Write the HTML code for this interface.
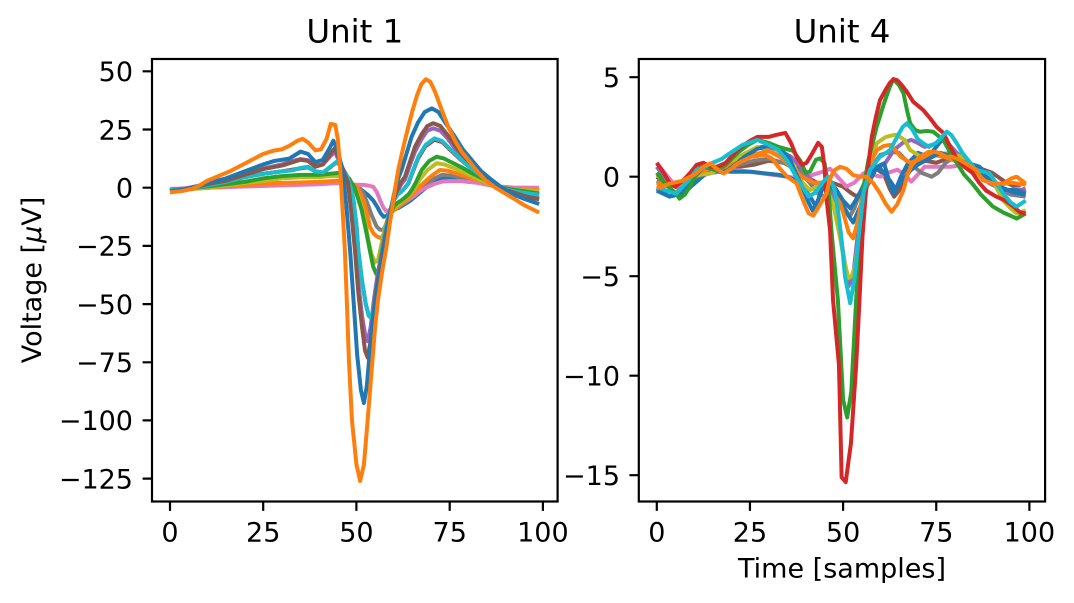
<!DOCTYPE html>
<html>
<head>
<meta charset="utf-8">
<style>
html,body{margin:0;padding:0;background:#fff;}
svg{display:block;}
text{font-family:"DejaVu Sans","Liberation Sans",sans-serif;fill:#000;}
.tl{font-size:27px;}
.tt{font-size:32.4px;}
path.s{fill:none;stroke-width:4;stroke-linejoin:round;stroke-linecap:butt;vector-effect:non-scaling-stroke;}
</style>
</head>
<body>
<svg width="1074" height="603" viewBox="0 0 1074 603" xmlns="http://www.w3.org/2000/svg">
<rect x="0" y="0" width="1074" height="603" fill="#fff"/>

<defs>
<clipPath id="cl"><rect x="152" y="59" width="405.6" height="442.5"/></clipPath>
<clipPath id="cr"><rect x="638.8" y="59" width="406.3" height="442.5"/></clipPath>
</defs>

<!-- ===== Left axes: Unit 1 ===== -->
<g clip-path="url(#cl)">
<g transform="matrix(3.729 0 0 -2.3274 170 187.7)">
<path class="s" stroke="#1f77b4" d="M0,-1 L10,0 L20,1 L30,1.5 L40,2 L46,2 L49,1.5 L51,-0.5 L53,-3 L54.5,-5.5 L55.5,-8 L56.5,-11 L57.3,-12.5 L58.2,-12 L59,-10.5 L60,-9.5 L61.5,-8.5 L63,-7 L64.5,-5.5 L66,-3.5 L67.5,-1.5 L69,0.5 L71,2.5 L72.9,4 L75,4.2 L78,3.8 L82,2.8 L87.2,0.6 L93,-0.5 L99,-1"/>
<path class="s" stroke="#7f7f7f" d="M0,-1 L10,0 L20,1.5 L30,2 L40,2.2 L45,2.5 L48,2 L50,1 L51,-0.5 L52,-3 L53,-7 L54,-11.5 L55.4,-16.7 L56.3,-18 L57.2,-18.2 L58,-15.5 L59,-11.5 L60,-9.5 L61.5,-8 L63,-6.5 L64.5,-4.5 L66,-2.5 L67.5,-0.5 L69,1.8 L71,4 L72.9,5.5 L75,5.3 L78,4.5 L81,3.5 L84,2.3 L87.2,0.6 L90,-0.2 L94,-0.6 L99,-1"/>
<path class="s" stroke="#e377c2" d="M0,-0.5 L10,0 L20,0.5 L30,1 L40,1.5 L45,2 L48,1.5 L50,1.2 L52,1.2 L53.5,0.8 L54.5,0.4 L55.5,-2 L56.3,-5.3 L57.2,-8.5 L57.9,-10 L58.7,-9.8 L59.5,-8.5 L61,-7.5 L62.5,-6.3 L63.9,-5.3 L65.5,-3.5 L67,-1.5 L69,0.3 L71,1.7 L72.9,2.6 L75,2.9 L78,2.8 L82,2.2 L87.2,0.6 L92,0.1 L99,0"/>
<path class="s" stroke="#ff7f0e" d="M0,-1 L10,0 L20,1.2 L30,2 L40,2.5 L45,3 L48,2.5 L50,0.5 L51,-2 L52,-6 L53,-12 L53.6,-16.7 L54.5,-19.5 L55.5,-21 L56.6,-21.7 L57.5,-19.5 L58.5,-14 L59.5,-10.5 L61,-8.5 L62.5,-6.5 L64,-4.5 L65.5,-2 L67,0.5 L69,3.5 L70.5,5.5 L72.4,7.6 L74.5,7.3 L77,6 L80,4.5 L83,3 L87.2,0.6 L90,-0.3 L94,-0.7 L99,-1"/>
<path class="s" stroke="#bcbd22" d="M0,-1.5 L10,0 L20,2 L25,3 L30,4 L35,4.5 L40,4.5 L43,5 L46,5 L48,3.5 L49.5,0 L50.5,-4 L51.5,-9 L52.5,-16 L53.2,-22.5 L54,-28.5 L55,-32 L55.8,-31 L56.6,-25 L57.5,-18 L58.5,-12.5 L59.5,-9.6 L61,-7.5 L62.5,-5.5 L64,-3.5 L65.5,-0.5 L67,3.5 L69,7.5 L71.5,10.5 L73.5,10 L76,8.5 L79,6.5 L82,4.2 L85,2 L87.2,0.6 L90,-0.3 L94,-1 L99,-1.5"/>
<path class="s" stroke="#2ca02c" d="M0,-1 L10,0.5 L20,2.5 L25,4 L30,5 L35,5.5 L40,5.5 L43,6 L46,6.5 L48,4 L49.5,0 L50.5,-5 L51.4,-9.6 L52.5,-18 L53.6,-27 L54.5,-34 L55.3,-37 L56.1,-35 L57,-28 L58,-19 L59,-12 L60,-8 L61,-6.5 L62,-5.5 L63,-4.2 L64,-2.8 L65,-0.5 L66,2.5 L67.5,7.6 L69.5,11.5 L71.5,13.3 L73.5,12.5 L76,10.5 L78.5,8.5 L81,6.2 L84,3.8 L87.2,0.8 L90,-0.3 L94,-1.3 L99,-2.5"/>
<path class="s" stroke="#9467bd" d="M0,-1.5 L10,1.5 L20,5.5 L25,8.2 L30,10 L33,11.5 L35,12.3 L37,11.8 L39,9.5 L41,10 L43,13.5 L44.2,15.5 L45.5,11 L46.8,5.5 L47.8,1.5 L48.7,-11 L49.6,-25 L50.5,-41 L51.5,-55 L52.3,-63 L53,-66 L53.8,-60 L54.7,-48 L55.7,-37 L56.7,-28 L57.7,-20 L58.7,-12.5 L59.7,-6.5 L60.8,-2 L62,1.5 L63,3.5 L64.3,9.5 L65.7,15.5 L67.5,21 L69,24.5 L70.6,25.5 L72.5,24.5 L74.5,21 L77.3,15 L79.5,11.5 L81.8,8.5 L84.5,4.5 L87.2,1 L90,-1 L93,-2.3 L96,-3.7 L99,-4.6"/>
<path class="s" stroke="#d62728" d="M0,-1 L5,-0.5 L10,1 L15,2.5 L20,4.5 L25,6 L30,7 L35,8.3 L37,8.8 L39,7 L41,6.5 L43,8.8 L44.7,11 L46,9 L47.5,5 L48.5,0 L49.2,-5.3 L50,-16 L50.5,-27 L51.5,-40 L52.5,-50 L53.3,-55 L54,-56 L54.8,-50 L55.8,-38 L56.8,-27 L57.8,-18 L58.8,-11 L59.8,-6 L61,-3 L62.5,-1 L63.9,1.7 L65.3,7.6 L66.6,12.8 L68.5,17.8 L70.9,20.6 L73,19.6 L75.5,15.7 L78.2,11.7 L81,8 L84,4.5 L87.2,0.8 L90,-0.8 L94,-2 L99,-3"/>
<path class="s" stroke="#17becf" d="M0,-1 L5,-0.5 L10,1 L15,2.5 L20,4.5 L25,6 L30,7 L33,7.5 L35,8.5 L37,9 L39,7 L41,6.5 L43,9 L44.7,11.2 L46,9 L47.5,5 L48.5,0 L49.2,-5.3 L50,-16 L50.5,-27 L51.5,-40 L52.5,-50 L53.3,-55 L54,-56 L54.8,-50 L55.8,-38 L56.8,-27 L57.8,-18 L58.8,-11 L59.8,-6 L61,-3 L62.5,-1 L63.9,1.9 L65.3,8 L66.6,13.3 L68.5,18.3 L70.9,21.2 L73,20 L75.5,16 L78.2,11.9 L81,8 L84,4.5 L87.2,0.8 L90,-0.8 L94,-2 L99,-3"/>
<path class="s" stroke="#8c564b" d="M0,-1.5 L5,-0.5 L10,1.5 L15,3 L20,5.5 L25,8 L30,9.5 L33,11 L35,12 L37,11.5 L39,9 L41,10 L43,14.5 L44.2,17 L45.5,12 L46.8,6 L47.8,1.9 L48.7,-12 L49.6,-27 L50.5,-45 L51.5,-60 L52.3,-70 L53,-73 L53.8,-66 L54.7,-52 L55.7,-40 L56.7,-30 L57.7,-21 L58.7,-13 L59.7,-6.5 L60.8,-1.5 L62,2.5 L63,4.7 L64.3,11 L65.7,17.6 L67.5,23 L69,26.5 L70.6,27.7 L72.5,26.5 L74.5,22.5 L77.3,16.2 L79.5,12.2 L81.8,9 L84.5,4.8 L87.2,1 L90,-1 L93,-2.5 L96,-4 L99,-5"/>
<path class="s" stroke="#1f77b4" d="M0,-1.5 L5,-0.5 L10,2 L15,4 L20,7 L25,10 L28,11.5 L32,12.5 L35,15.5 L37,14.5 L39,11 L41,12 L42.8,17 L43.8,20.2 L45,16 L46,9 L46.5,4.7 L47.3,-8 L48.3,-27 L49.2,-48 L50.2,-72 L51.2,-87 L52,-92.5 L52.8,-85 L53.6,-70 L54.5,-55 L55.5,-45 L56.5,-35 L57.5,-25 L58.5,-16 L59.4,-8 L60.3,-1 L61.2,4 L62.1,7.6 L63.5,15 L64.8,21.9 L66.5,28 L68.3,32.5 L70.2,34.1 L72,32.5 L74,27.5 L76.4,21.9 L78.5,16.5 L80.9,11.9 L83.5,7 L86.3,3.3 L89,0 L92,-2.8 L95,-4.8 L99,-7"/>
<path class="s" stroke="#ff7f0e" d="M0,-2 L3,-1.5 L6,-0.5 L8,1 L10,3 L13,5 L16,7 L19,9.5 L22,12 L25,14.5 L28,16 L30,16.5 L32,18 L34,20 L35.5,21 L37,19.5 L39,16 L40.5,16.5 L42,21 L43.1,27.4 L44.3,27 L45,21 L45.6,9 L46.3,-10 L46.9,-27 L47.4,-48 L48,-75 L48.8,-100 L50,-119 L51,-126 L52,-119 L53,-100 L54,-80 L55,-60 L55.8,-48 L57,-35 L58,-26 L58.8,-17 L59.5,-9.6 L60.3,-1 L61.2,7.6 L62.5,17 L63.9,26.2 L65,33 L66.2,39.5 L67.4,44.5 L68.6,46.6 L69.8,45.5 L71,41.5 L72.5,35 L74.6,26.2 L76.5,20 L78.2,15.5 L80,11.9 L82.3,7.2 L84.5,3.3 L87,0.3 L89.8,-2.4 L92,-4.5 L95,-7.5 L99,-10.7"/>
</g>
</g>

<!-- left frame and ticks -->
<g stroke="#000" stroke-width="2.2" fill="none">
<rect x="152" y="59" width="405.6" height="442.5" stroke-linejoin="miter"/>
<path d="M170,501.5 v9.4 M263.2,501.5 v9.4 M356.4,501.5 v9.4 M449.7,501.5 v9.4 M542.9,501.5 v9.4"/>
<path d="M152,71.3 h-9.4 M152,129.5 h-9.4 M152,187.7 h-9.4 M152,245.9 h-9.4 M152,304.1 h-9.4 M152,362.3 h-9.4 M152,420.4 h-9.4 M152,478.6 h-9.4"/>
</g>
<g class="tl" text-anchor="end">
<text x="133" y="81.1">50</text>
<text x="133" y="139.3">25</text>
<text x="133" y="197.5">0</text>
<text x="133" y="255.7">−25</text>
<text x="133" y="313.9">−50</text>
<text x="133" y="372.1">−75</text>
<text x="133" y="430.2">−100</text>
<text x="133" y="488.4">−125</text>
</g>
<g class="tl" text-anchor="middle">
<text x="170" y="541.5">0</text>
<text x="263.2" y="541.5">25</text>
<text x="356.4" y="541.5">50</text>
<text x="449.7" y="541.5">75</text>
<text x="542.9" y="541.5">100</text>
</g>
<text class="tt" x="354.8" y="42.5" text-anchor="middle">Unit 1</text>
<text class="tl" transform="translate(41,280) rotate(-90)" text-anchor="middle">Voltage [<tspan font-style="italic">μ</tspan>V]</text>

<!-- ===== Right axes: Unit 4 ===== -->
<g clip-path="url(#cr)">
<g transform="matrix(3.726 0 0 -19.9 656.8 176.7)">
<path class="s" stroke="#8c564b" d="M0,0 L3,-0.4 L6,-0.5 L10,-0.1 L14,0.3 L18,0.5 L22,0.5 L26,0.6 L30,0.8 L34,0.7 L38,0.4 L41,-0.1 L44,-0.4 L47,-0.3 L50,-0.5 L52,-0.8 L53.7,-1.0 L55.5,-0.6 L57,0 L59,0.4 L61,0.1 L62.5,-0.6 L63.7,-1.0 L65,-0.7 L67,0.2 L69,0.7 L72,0.8 L75,0.7 L78,0.9 L81,1.0 L84,0.6 L87,0.4 L90,0.2 L93,-0.2 L96,-0.5 L99,-0.3"/>
<path class="s" stroke="#e377c2" d="M0,0.67 L2.5,0.1 L5.2,-0.5 L8,-0.3 L11,0 L15,0.2 L19,0.3 L23,0.3 L27,0.2 L31,0.1 L35,0 L39,-0.1 L42,0.1 L44.5,0.25 L46.5,0.4 L48.5,0 L50.9,-0.5 L53,-0.3 L55.5,0.17 L58,0.1 L60,0 L62,0.2 L64.6,0.35 L66.5,0.1 L68.3,-0.25 L70,0.1 L71.9,0.5 L74,0.5 L76.5,0.5 L79,0.5 L82,0.6 L85,0.4 L88,0 L91,-0.4 L94,-0.7 L97,-0.6 L99,-0.8"/>
<path class="s" stroke="#7f7f7f" d="M0,-0.2 L3,-0.5 L6,-0.4 L10,0 L14,0.2 L18,0.3 L22,0.6 L26,0.8 L30,0.9 L34,0.7 L38,0.3 L41,-0.3 L43.5,-0.9 L45.5,-1.0 L47,-0.8 L49,-0.9 L50.5,-1.6 L51.8,-2.0 L53,-1.6 L54.5,-0.8 L56,-0.2 L58,0.6 L60,1.1 L62.8,1.25 L65,1.2 L67,0.8 L69,0.5 L71,0.2 L73.8,0 L75.5,0.2 L77.5,0.7 L80,1.0 L83,0.8 L86,0.4 L89,-0.1 L92,-0.6 L95,-0.9 L99,-1.0"/>
<path class="s" stroke="#9467bd" d="M0,0.5 L3,-0.3 L6,-0.6 L9,-0.3 L12,0.3 L16,0.5 L20,0.8 L24,1.2 L28,1.5 L32,1.4 L36,1.0 L39,0.4 L42,-0.3 L45,-0.5 L47,-0.8 L48.5,-1.8 L50,-3.8 L51.5,-5.5 L52.8,-4.8 L54,-2.8 L55.5,-0.8 L57,0.3 L59,0.5 L61,0.6 L63.7,1.35 L66,1.7 L68.3,1.85 L70,1.7 L71.9,1.5 L74,1.6 L76.5,1.85 L78.5,1.6 L80.5,1.2 L83,0.8 L86,0.3 L89,-0.3 L92,-0.6 L95,-0.8 L99,-0.6"/>
<path class="s" stroke="#1f77b4" d="M0,-0.6 L3.4,-1.0 L7,-0.85 L10.7,-0.25 L14.4,0.35 L17,0.3 L19.8,0.25 L25.3,0.25 L29,0.17 L32.6,0.1 L35,0 L38,-0.25 L40,-0.7 L41.8,-1.2 L42.7,-1.5 L44.5,-0.5 L46.3,-0.35 L48.2,-0.85 L50.5,-1.7 L52.7,-2.3 L54.6,-1.5 L56.4,-0.5 L59.1,0.5 L61,0.67 L62.8,-0.5 L63.7,-0.85 L65.5,0 L67.4,0.67 L70.1,1.2 L72.9,1.0 L76.5,1.85 L78.5,1.6 L80.2,1.0 L83.8,0.67 L86.6,0.5 L89.3,0 L93,-0.67 L96.6,-0.67 L99,-0.85"/>
<path class="s" stroke="#bcbd22" d="M0,0.1 L2.5,-0.3 L5.2,-0.5 L7.5,-0.2 L9.8,0 L12,0.1 L14.4,0.17 L17,0.4 L19.8,0.67 L23,1.1 L27,1.5 L30,1.3 L34.5,1.0 L37,0.5 L38.4,-0.17 L41.1,-0.67 L43,-0.5 L44.5,-0.5 L46,-0.8 L47.3,-1.35 L49,-2.9 L50.3,-4.2 L51.4,-5.1 L52.3,-5.0 L53.2,-4.5 L55,-2.0 L57.3,0.5 L59,1.68 L61.5,2.0 L63.7,2.1 L64.4,2.1 L66.5,1.85 L68,1.34 L69.2,1.2 L71.5,0.92 L73,1.0 L75.5,1.1 L78.3,1.2 L80,1.1 L82,1.0 L84,0.5 L85.6,0.17 L89.3,0 L91,-0.5 L93,-1.2 L95,-1.6 L96.6,-1.85 L99,-1.7"/>
<path class="s" stroke="#ff7f0e" d="M0,-0.3 L3,-0.5 L6,-0.3 L10,0.1 L14,0.4 L18,0.5 L22,0.7 L26,1.1 L30,1.3 L33,1.0 L36,0.5 L39,0 L42,-0.3 L45,-0.3 L47,-0.4 L48.5,-0.9 L50,-1.8 L51.5,-2.8 L52.7,-3.1 L54,-2.2 L55.5,-0.6 L57,0.6 L59.1,1.35 L61,1.55 L62.8,1.6 L65.5,1.0 L68,0.7 L71,0.9 L74,1.1 L77,1.0 L80,0.8 L83,0.5 L86,0.2 L89,-0.2 L92,-0.4 L95,-0.3 L99,-0.4"/>
<path class="s" stroke="#1f77b4" d="M0,-0.7 L3.4,-1.0 L8,-0.5 L12.5,0.5 L15,0.4 L18,0.17 L21,0.6 L23.5,1.0 L27,1.4 L30.8,1.6 L33,1.4 L35.4,1.0 L37,0.3 L39,-0.5 L40.5,-1.2 L41.8,-1.7 L43,-1.3 L44.5,-0.6 L46,-0.3 L48,-0.6 L50,-1.2 L52,-1.6 L54,-1.0 L56,-0.3 L58,0.3 L60,0.4 L62.6,-0.2 L64,-0.6 L66,-0.2 L68,0.3 L70,0.6 L73,0.9 L76,1.2 L78,1.1 L80,0.9 L83,0.7 L86,0.4 L89,-0.1 L92,-0.5 L96,-0.8 L99,-0.9"/>
<path class="s" stroke="#2ca02c" d="M0,0.2 L2.5,-0.4 L5.2,-0.85 L6.1,-1.1 L7.5,-0.9 L8.9,-0.5 L10.3,0 L11.6,0.5 L13.5,0.5 L16,0.3 L18.5,0.6 L21.7,1.2 L24.5,1.6 L27,1.85 L30,1.7 L32.6,1.5 L34.5,1.4 L36.6,1.3 L38.5,0.8 L40,0.2 L41.1,0.25 L42.7,0.85 L43.8,0.92 L45,0.7 L46,-0.5 L47,-3 L48.6,-6.2 L50,-11.2 L51.1,-12.1 L52.2,-10.8 L53.5,-6.2 L54.5,-3 L55.5,-0.5 L56.8,0.84 L59,2.5 L61,3.7 L62.5,4.5 L63.5,4.9 L65,4.6 L66.2,4.2 L67.2,3.3 L68,2.68 L69.3,2.35 L70.6,2.26 L72.5,2.3 L74.2,2.26 L76.9,1.84 L78.5,1.3 L80.5,0.7 L82.5,0.1 L84.7,-0.35 L87,-0.9 L90.2,-1.5 L93,-1.8 L96.6,-2.1 L99,-1.85"/>
<path class="s" stroke="#d62728" d="M0,0.7 L1.5,0.3 L3.4,-0.3 L5,-0.5 L7,-0.2 L9,0.2 L10.7,0.6 L12.5,0.7 L14.4,0.5 L16.5,0.5 L18.5,0.7 L20.5,1.1 L22.6,1.5 L25,1.8 L27,2.0 L30,2.0 L32,2.1 L34.5,2.2 L36,1.7 L37.5,1.0 L39,0.6 L40.2,0.7 L41.5,1.1 L43.3,1.7 L44.3,1.5 L45,0.5 L45.6,-1.2 L46.5,-2.7 L47.3,-6.2 L48.9,-9.5 L49.6,-15.1 L50.7,-15.35 L52.1,-13.4 L53.5,-9.5 L54.4,-6.2 L55.2,-3 L56.1,-0.8 L56.9,0.8 L57.7,2.0 L58.8,3.0 L59.9,3.85 L61.5,4.4 L62.5,4.7 L63.5,4.9 L64.5,4.85 L65.3,4.7 L67,4.3 L68.8,3.77 L71.5,3.35 L73.5,2.9 L75.1,2.5 L76.9,2.2 L78.5,1.6 L80.2,1.0 L82.5,0.5 L84.7,0.2 L86.5,-0.3 L88.4,-0.7 L91.1,-1.0 L93.5,-1.2 L95.7,-1.5 L97.5,-1.8 L99,-1.85"/>
<path class="s" stroke="#17becf" d="M0,-0.5 L2.5,-0.7 L5.2,-0.85 L8,-0.3 L10.7,0.35 L13,0.5 L15,0.7 L17.5,0.9 L19.8,1.2 L23,1.6 L27,1.85 L30,1.6 L32.6,1.35 L35,0.8 L38,-0.2 L40.8,-1.0 L42.5,-0.8 L44.7,-0.25 L46,0 L47.5,-0.5 L48.5,-1.5 L49.5,-3 L50.5,-5 L51.9,-6.36 L53,-5.2 L54.3,-2.8 L55.5,-0.8 L57.2,0.34 L59.9,1.0 L62.6,1.34 L64.5,2 L66,2.5 L67.1,2.68 L68.5,2.4 L70,1.9 L71.5,1.68 L73,1.5 L75,1.7 L77.8,2.26 L79,2.1 L80.5,1.68 L82,1.2 L85.6,0.35 L89.3,0.17 L91,-0.3 L93,-0.85 L95,-1.3 L96.6,-1.5 L99,-1.2"/>
<path class="s" stroke="#ff7f0e" d="M0,-0.6 L1.5,-0.5 L3.4,-0.35 L7,-0.2 L10.7,0.17 L12.5,0.5 L14.4,0.67 L16,0.4 L18,0.17 L20,0.4 L21.7,0.67 L25.3,1.0 L29,1.1 L31,0.9 L32.6,0.5 L35,0 L37.5,-0.33 L39.5,-1.3 L40.8,-1.85 L42,-1.95 L43.5,-1.5 L45.6,-0.83 L46.3,-0.2 L47.5,0.3 L49.2,0.5 L50.9,0.4 L52.7,0.08 L54.5,0 L56.3,0 L58,-0.3 L59.9,-0.83 L61.4,-1.35 L63,-1.76 L64.5,-1.4 L66.2,-0.67 L67.4,0.17 L68.5,0.6 L70.6,1.0 L72.9,1.25 L74.2,1.26 L75.6,1.2 L77.8,1.0 L79.3,1.0 L81.4,0.84 L82.9,0.67 L85.6,0.35 L87.5,-0.17 L90.2,-0.35 L93,-0.35 L95,-0.1 L96.6,0 L98,-0.2 L99,-0.35"/>
</g>
</g>

<!-- right frame and ticks -->
<g stroke="#000" stroke-width="2.2" fill="none">
<rect x="638.8" y="59" width="406.3" height="442.5" stroke-linejoin="miter"/>
<path d="M656.8,501.5 v9.4 M749.95,501.5 v9.4 M843.1,501.5 v9.4 M936.25,501.5 v9.4 M1029.4,501.5 v9.4"/>
<path d="M638.8,77.2 h-9.4 M638.8,176.7 h-9.4 M638.8,276.2 h-9.4 M638.8,375.7 h-9.4 M638.8,475.2 h-9.4"/>
</g>
<g class="tl" text-anchor="end">
<text x="620" y="87">5</text>
<text x="620" y="186.5">0</text>
<text x="620" y="286">−5</text>
<text x="620" y="385.5">−10</text>
<text x="620" y="485">−15</text>
</g>
<g class="tl" text-anchor="middle">
<text x="656.8" y="541.5">0</text>
<text x="749.95" y="541.5">25</text>
<text x="843.1" y="541.5">50</text>
<text x="936.25" y="541.5">75</text>
<text x="1029.4" y="541.5">100</text>
</g>
<text class="tt" x="842" y="42.5" text-anchor="middle">Unit 4</text>
<text class="tl" x="842" y="577.5" text-anchor="middle">Time [samples]</text>
</svg>
</body>
</html>
